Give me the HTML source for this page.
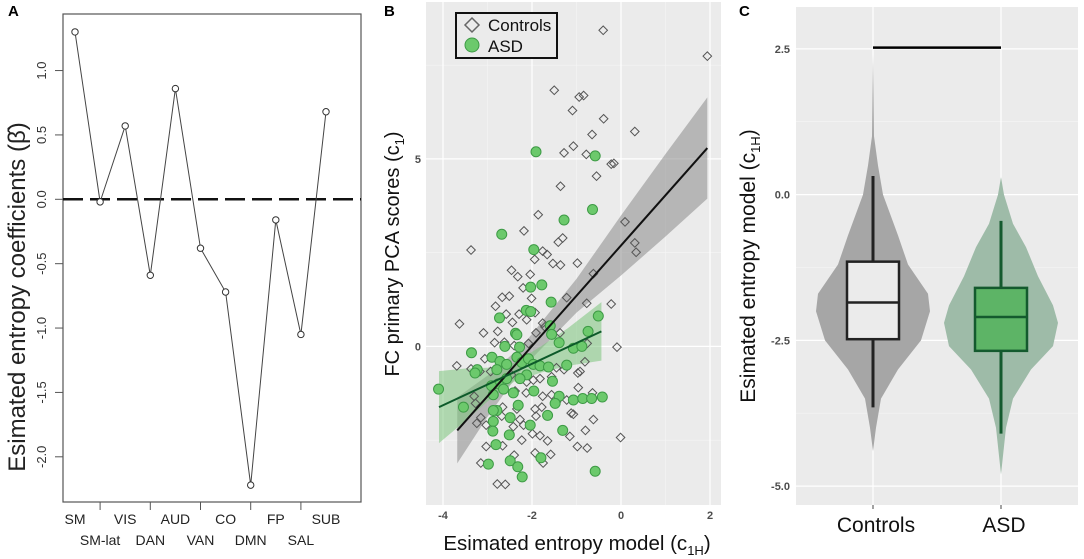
<!DOCTYPE html>
<html><head><meta charset="utf-8"><style>
html,body{margin:0;padding:0;background:#fff;}
svg{display:block;font-family:"Liberation Sans","DejaVu Sans",sans-serif;}
</style></head><body>
<svg id="fig" width="1084" height="559" viewBox="0 0 1084 559" xmlns="http://www.w3.org/2000/svg">
<g id="pa"></g>
<g id="pb"></g>
<g id="pc"></g>
</svg>
<script>
// ---------- Panel A data ----------
const networks = ["SM","SM-lat","VIS","DAN","AUD","VAN","CO","DMN","FP","SAL","SUB"];
const coefValues = [1.30,-0.02,0.57,-0.59,0.86,-0.38,-0.72,-2.22,-0.16,-1.05,0.68];
const aTicks = [1.0,0.5,0.0,-0.5,-1.0,-1.5,-2.0];
const aTickLabels = ["1.0","0.5","0.0","-0.5","-1.0","-1.5","-2.0"];
// ---------- Panel B data ----------
const ctrlX = [-0.40,1.94,-1.50,-0.94,-0.84,-1.09,-0.39,0.31,-0.65,-1.07,-1.28,-0.78,-0.22,-0.16,-0.55,-1.36,-1.86,0.09,-2.18,-1.31,-1.41,0.31,0.34,-3.37,-1.76,-1.66,-1.94,-1.53,-1.36,-0.98,-2.46,-2.04,-2.32,-0.62,-2.20,-2.67,-2.51,-2.01,-1.22,-2.82,-0.77,-0.22,-2.58,-2.29,-1.93,-3.63,-2.44,-2.12,-1.76,-1.71,-3.09,-2.77,-1.91,-1.37,-2.84,-2.62,-2.40,-2.08,-0.76,-0.09,-3.69,-3.37,-3.06,-3.17,-2.93,-2.46,-1.45,-1.28,-0.97,-0.81,-0.92,-2.12,-1.97,-1.82,-1.56,-0.96,-2.38,-2.13,-1.76,-1.56,-0.64,-3.30,-3.27,-2.66,-2.34,-1.93,-1.78,-1.45,-1.22,-3.15,-2.68,-2.27,-1.91,-1.12,-1.07,-3.24,-3.03,-2.42,-2.19,-1.99,-1.82,-1.15,-0.80,-0.62,-0.01,-3.03,-2.66,-2.23,-1.65,-0.98,-0.76,-1.93,-1.58,-1.75,-3.15,-2.78,-2.60,-2.40];
const ctrlY = [8.43,7.74,6.83,6.65,6.69,6.29,6.07,5.73,5.65,5.34,5.16,5.12,4.86,4.88,4.54,4.27,3.51,3.32,3.08,2.89,2.78,2.76,2.51,2.57,2.54,2.45,2.32,2.21,2.17,2.22,2.03,1.92,1.86,1.94,1.56,1.31,1.34,1.28,1.30,1.07,1.15,1.13,0.86,0.86,0.90,0.60,0.64,0.71,0.62,0.52,0.36,0.40,0.36,0.36,0.10,0.11,0.02,0.08,0.08,-0.02,-0.52,-0.60,-0.33,-0.67,-0.67,-0.76,-0.57,-0.62,-0.71,-0.41,-0.67,-0.95,-0.90,-0.86,-0.81,-1.10,-1.19,-1.24,-1.33,-1.29,-1.24,-1.33,-1.52,-1.62,-1.67,-1.67,-1.62,-1.48,-1.43,-1.90,-1.86,-1.95,-1.86,-1.78,-1.81,-2.05,-2.10,-2.14,-2.10,-2.33,-2.38,-2.40,-2.24,-1.95,-2.43,-2.67,-2.65,-2.50,-2.52,-2.67,-2.71,-2.84,-2.88,-3.11,-3.11,-3.67,-3.68,-2.90];
const asdX = [-1.91,-0.58,-2.68,-0.64,-1.28,-1.96,-2.03,-1.78,-1.57,-2.13,-2.03,-2.73,-1.59,-1.56,-2.37,-2.34,-0.51,-0.74,-1.39,-2.61,-2.28,-3.36,-3.23,-3.28,-2.90,-2.72,-2.79,-2.57,-2.34,-2.23,-2.08,-1.97,-1.82,-1.63,-1.22,-1.07,-0.88,-2.12,-2.27,-2.57,-2.76,-2.91,-4.10,-3.54,-2.87,-2.64,-2.42,-1.96,-1.54,-1.39,-1.48,-1.07,-0.86,-0.66,-0.42,-2.79,-2.87,-2.31,-2.49,-1.65,-2.87,-2.88,-2.04,-1.31,-2.51,-2.81,-2.98,-2.49,-2.32,-2.22,-1.80,-0.58];
const asdY = [5.19,5.08,2.99,3.65,3.37,2.58,1.58,1.64,1.18,0.96,0.93,0.76,0.55,0.32,0.35,0.31,0.81,0.40,0.10,0.00,-0.02,-0.17,-0.62,-0.71,-0.29,-0.40,-0.62,-0.48,-0.29,-0.43,-0.33,-0.48,-0.52,-0.55,-0.50,-0.05,0.00,-0.76,-0.86,-0.86,-1.00,-1.05,-1.14,-1.62,-1.29,-1.14,-1.24,-1.19,-0.93,-1.33,-1.52,-1.43,-1.39,-1.39,-1.35,-1.71,-1.71,-1.57,-1.90,-1.84,-2.00,-2.26,-2.10,-2.24,-2.36,-2.62,-3.14,-3.05,-3.21,-3.48,-2.97,-3.33];
const ctrlBandX = [-3.68,-3,-2.2,-1,0,1,1.94];
const ctrlFit = [-2.24,-1.33,-0.26,1.35,2.69,4.03,5.29];
const ctrlHalf = [0.88,0.55,0.3,0.45,0.8,1.1,1.35];
const asdBandX = [-4.09,-3.5,-3,-2.4,-1.8,-1.2,-0.44];
const asdFit = [-1.62,-1.29,-1.02,-0.69,-0.35,-0.02,0.40];
const asdHalf = [0.96,0.7,0.45,0.25,0.35,0.5,0.78];
const bXTicks = [-4,-2,0,2];
const bYTicks = [0,5];
// ---------- Panel C data ----------
const groups = ["Controls","ASD"];
const boxQ1 = [-2.48,-2.68], boxMed = [-1.85,-2.1], boxQ3 = [-1.15,-1.6];
const whiskLo = [-3.65,-4.1], whiskHi = [0.32,-0.45];
const ctrlViolinY = [2.4,1.0,0.5,0,-0.7,-1.2,-1.7,-2.0,-2.5,-3.0,-3.5,-4.0,-4.4];
const ctrlViolinW = [0,1,5,10,25,35,55,57,48,25,8,3,0];
const asdViolinY = [0.3,0,-0.5,-0.9,-1.4,-1.9,-2.2,-2.6,-3.0,-3.5,-4.0,-4.8];
const asdViolinW = [0,3,12,25,37,52,57,52,30,12,5,0];
const sigBarY = 2.52;
const cYTicks = [2.5,0,-2.5,-5];
const cYTickLabels = ["2.5","0.0","-2.5","-5.0"];

const NS="http://www.w3.org/2000/svg";
function mk(parent,tag,attrs,text){const e=document.createElementNS(NS,tag);for(const k in attrs)e.setAttribute(k,attrs[k]);if(text!==undefined)e.textContent=text;parent.appendChild(e);return e;}

// ===== Panel A =====
const pa=document.getElementById('pa');
const aX=i=>75+i*25.1, aY=v=>199.3-v*128.75;
let e;
e=mk(pa,'text',{x:8,y:16,'font-size':15,'font-weight':'bold'},'A');


e=mk(pa,'rect',{x:63,y:14,width:298,height:488,fill:'none',stroke:'#555','stroke-width':1.2});


aTicks.forEach((t,i)=>{
  e=mk(pa,'line',{x1:55,x2:63,y1:aY(t),y2:aY(t),stroke:'#555'});
  
  
  e=mk(pa,'text',{x:0,y:0,'font-size':13,'text-anchor':'middle',fill:'#333',transform:`translate(46,${aY(t)}) rotate(-90)`},aTickLabels[i]);
  
  
});
e=mk(pa,'text',{x:0,y:0,'font-size':24,'text-anchor':'middle',fill:'#222',transform:'translate(25,297) rotate(-90)'},'Esimated entropy coefficients (β̂)');


e=mk(pa,'line',{x1:63,x2:361,y1:aY(0),y2:aY(0),stroke:'#111','stroke-width':2.5,'stroke-dasharray':'20,7'});


e=mk(pa,'polyline',{points:coefValues.map((v,i)=>aX(i)+','+aY(v)).join(' '),fill:'none',stroke:'#444','stroke-width':1});


coefValues.forEach((v,i)=>{
  e=mk(pa,'circle',{cx:aX(i),cy:aY(v),r:3.2,fill:'#fff',stroke:'#333','stroke-width':1});
  
  
  if(i%2===1){
    e=mk(pa,'line',{x1:aX(i),x2:aX(i),y1:502,y2:510,stroke:'#555'});
    
    
  }
  e=mk(pa,'text',{x:aX(i),y:i%2===0?524:545,'font-size':14,'text-anchor':'middle',fill:'#222'},networks[i]);
  
  
});

// ===== Panel B =====
const pb=document.getElementById('pb');
const bX=v=>621+v*44.5, bY=v=>346.4-v*37.5;
const BL=426,BR=721,BT=2,BB=505;
e=mk(pb,'text',{x:384,y:16,'font-size':15,'font-weight':'bold'},'B');


e=mk(pb,'rect',{x:BL,y:BT,width:BR-BL,height:BB-BT,fill:'#ebebeb'});


[-3,-1,1].forEach(t=>{e=mk(pb,'line',{x1:bX(t),x2:bX(t),y1:BT,y2:BB,stroke:'#f5f5f5','stroke-width':0.6});

});
[-2.5,2.5,7.5].forEach(t=>{e=mk(pb,'line',{x1:BL,x2:BR,y1:bY(t),y2:bY(t),stroke:'#f5f5f5','stroke-width':0.6});

});
bXTicks.forEach(t=>{
  e=mk(pb,'line',{x1:bX(t),x2:bX(t),y1:BT,y2:BB,stroke:'#fff','stroke-width':1.2});
  
  
  e=mk(pb,'text',{x:bX(t),y:519,'font-size':11,'font-weight':'bold','text-anchor':'middle',fill:'#4d4d4d'},String(t));
  
  
});
bYTicks.forEach(t=>{
  e=mk(pb,'line',{x1:BL,x2:BR,y1:bY(t),y2:bY(t),stroke:'#fff','stroke-width':1.2});
  
  
  e=mk(pb,'text',{x:421,y:bY(t)+4,'font-size':11,'font-weight':'bold','text-anchor':'end',fill:'#4d4d4d'},String(t));
  
  
});
function band(xs,fit,hw){const up=xs.map((x,i)=>bX(x)+','+bY(fit[i]+hw[i]));const lo=xs.map((x,i)=>bX(x)+','+bY(fit[i]-hw[i])).reverse();return up.concat(lo).join(' ');}
e=mk(pb,'polygon',{points:band(ctrlBandX,ctrlFit,ctrlHalf),fill:'#8a8a8a','fill-opacity':0.55});


e=mk(pb,'polygon',{points:band(asdBandX,asdFit,asdHalf),fill:'#7cc47c','fill-opacity':0.55});


ctrlX.forEach((x,i)=>{const cx=bX(x),cy=bY(ctrlY[i]);
  e=mk(pb,'polygon',{points:`${cx},${cy-4.3} ${cx+4.3},${cy} ${cx},${cy+4.3} ${cx-4.3},${cy}`,fill:'none',stroke:'#555','stroke-width':1});
  
  
});
asdX.forEach((x,i)=>{
  e=mk(pb,'circle',{cx:bX(x),cy:bY(asdY[i]),r:5,fill:'#6cc96c',stroke:'#3d9a45','stroke-width':1});
  
  
});
const nC=ctrlBandX.length-1,nA=asdBandX.length-1;
e=mk(pb,'line',{x1:bX(ctrlBandX[0]),y1:bY(ctrlFit[0]),x2:bX(ctrlBandX[nC]),y2:bY(ctrlFit[nC]),stroke:'#111','stroke-width':2});


e=mk(pb,'line',{x1:bX(asdBandX[0]),y1:bY(asdFit[0]),x2:bX(asdBandX[nA]),y2:bY(asdFit[nA]),stroke:'#0d5a2a','stroke-width':2});


// legend
const lg=mk(pb,'g',{});


e=mk(lg,'rect',{x:456,y:13,width:101,height:45,fill:'#ebebeb',stroke:'#111','stroke-width':2});


e=mk(lg,'polygon',{points:'472,18 479,25 472,32 465,25',fill:'none',stroke:'#666','stroke-width':1.5});


e=mk(lg,'text',{x:488,y:31,'font-size':17,fill:'#111'},'Controls');


e=mk(lg,'circle',{cx:472,cy:45,r:7,fill:'#6cc96c',stroke:'#3d9a45'});


e=mk(lg,'text',{x:488,y:52,'font-size':17,fill:'#111'},'ASD');


e=mk(pb,'text',{x:0,y:0,'font-size':20,'text-anchor':'middle',fill:'#111',transform:'translate(399,254) rotate(-90)'});
e.innerHTML='FC primary PCA scores (c<tspan font-size="13" dy="5">1</tspan><tspan dy="-5">)</tspan>';


e=mk(pb,'text',{x:577,y:550,'font-size':20.5,'text-anchor':'middle',fill:'#111'});
e.innerHTML='Esimated entropy model (c<tspan font-size="13" dy="5">1H</tspan><tspan dy="-5">)</tspan>';



// ===== Panel C =====
const pc=document.getElementById('pc');
const cY=v=>194.6-v*58.3;
const gX=[873,1001];
const CL=796,CR=1078,CT=7,CB=505;
e=mk(pc,'text',{x:739,y:16,'font-size':15,'font-weight':'bold'},'C');


e=mk(pc,'rect',{x:CL,y:CT,width:CR-CL,height:CB-CT,fill:'#ebebeb'});


[3.75,1.25,-1.25,-3.75].forEach(t=>{e=mk(pc,'line',{x1:CL,x2:CR,y1:cY(t),y2:cY(t),stroke:'#f5f5f5','stroke-width':0.6});

});
cYTicks.forEach((t,i)=>{
  e=mk(pc,'line',{x1:CL,x2:CR,y1:cY(t),y2:cY(t),stroke:'#fff','stroke-width':1.2});
  
  
  e=mk(pc,'text',{x:790,y:cY(t)+4,'font-size':11,'font-weight':'bold','text-anchor':'end',fill:'#4d4d4d'},cYTickLabels[i]);
  
  
});
gX.forEach((x,i)=>{
  e=mk(pc,'line',{x1:x,x2:x,y1:CT,y2:CB,stroke:'#fff','stroke-width':1.2});
  
  
  e=mk(pc,'line',{x1:x,x2:x,y1:CB,y2:CB+4,stroke:'#444'});
  
  
  e=mk(pc,'text',{x:x+3,y:532,'font-size':21,'text-anchor':'middle',fill:'#111'},groups[i]);
  
  
});
function violin(cx,ys,ws){const r=ys.map((y,i)=>(cx+ws[i])+','+cY(y));const l=ys.map((y,i)=>(cx-ws[i])+','+cY(y)).reverse();return r.concat(l).join(' ');}
e=mk(pc,'polygon',{points:violin(gX[0],ctrlViolinY,ctrlViolinW),fill:'#a6a6a6','stroke-linejoin':'round'});


e=mk(pc,'polygon',{points:violin(gX[1],asdViolinY,asdViolinW),fill:'#9ebba8'});


const boxFill=['#ebebeb','#5db466'],boxStroke=['#222','#145a2e'];
gX.forEach((x,i)=>{
  e=mk(pc,'line',{x1:x,x2:x,y1:cY(whiskHi[i]),y2:cY(whiskLo[i]),stroke:boxStroke[i],'stroke-width':3});
  
  
  e=mk(pc,'rect',{x:x-26,y:cY(boxQ3[i]),width:52,height:cY(boxQ1[i])-cY(boxQ3[i]),fill:boxFill[i],stroke:boxStroke[i],'stroke-width':2.5});
  
  
  e=mk(pc,'line',{x1:x-26,x2:x+26,y1:cY(boxMed[i]),y2:cY(boxMed[i]),stroke:boxStroke[i],'stroke-width':2.5});
  
  
});
e=mk(pc,'line',{x1:gX[0],x2:gX[1],y1:cY(sigBarY),y2:cY(sigBarY),stroke:'#000','stroke-width':2.5});


e=mk(pc,'text',{x:0,y:0,'font-size':21,'text-anchor':'middle',fill:'#111',transform:'translate(755,266) rotate(-90)'});
e.innerHTML='Esimated entropy model (c<tspan font-size="13" dy="5">1H</tspan><tspan dy="-5">)</tspan>';


</script>
</body></html>
